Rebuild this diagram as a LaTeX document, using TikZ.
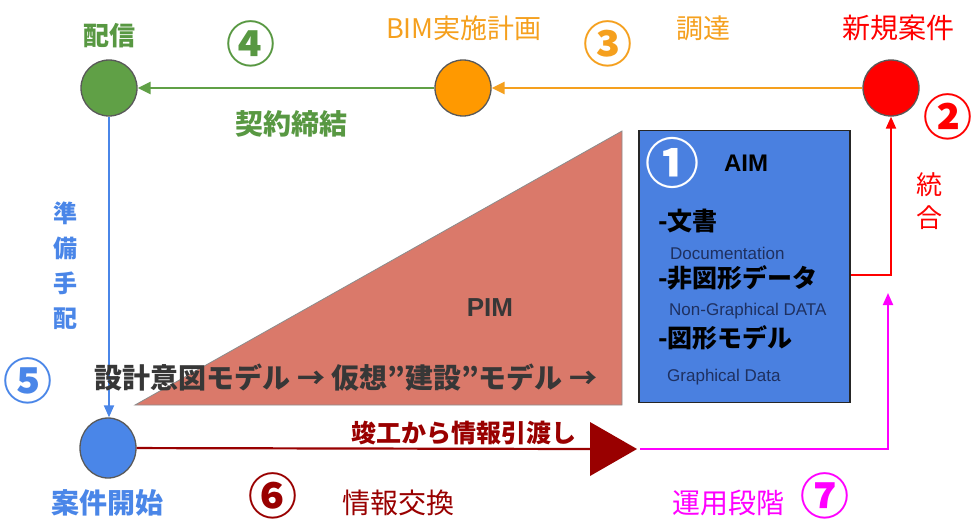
\documentclass[tikz,border=0pt]{standalone}
\usepackage{fontspec}
\setmainfont{Noto Sans CJK JP}
\newfontfamily\arial{Liberation Sans}
\usetikzlibrary{arrows.meta,shapes.geometric}
\newcommand\myfs[1]{\fontsize{#1}{#1}\selectfont}
\definecolor{cgreen}{RGB}{96,160,70}
\definecolor{tgreen}{RGB}{88,152,66}
\definecolor{corange}{RGB}{255,153,0}
\definecolor{torange}{RGB}{245,160,30}
\definecolor{cred}{RGB}{255,0,0}
\definecolor{cblue}{RGB}{74,134,232}
\definecolor{cdred}{RGB}{153,0,0}
\definecolor{cmag}{RGB}{255,0,255}
\definecolor{csalmon}{RGB}{218,121,106}
\definecolor{caim}{RGB}{74,128,224}
\definecolor{cnavy}{RGB}{30,48,96}
\definecolor{cdgray}{RGB}{55,55,55}
\tikzset{
  dot/.style={circle, minimum size=56pt, inner sep=0pt, draw=black!65, line width=1.3pt},
  lbl/.style={inner sep=0pt, anchor=center},
  tipa/.style={-{Triangle[length=13pt,width=12pt]}},
  cnum/.style={inner sep=0pt, font=\bfseries\myfs{49}},
}
\begin{document}
\begin{tikzpicture}[x=1pt,y=-1pt]
\useasboundingbox[fill=white] (0,0) rectangle (973,522);
% PIM triangle
\filldraw[fill=csalmon, draw=black!45, line width=0.8pt] (135,405) -- (622,405) -- (622,131) -- cycle;
% AIM box
\node[draw=black!85, fill=caim, line width=1.3pt, minimum width=211pt, minimum height=272pt, inner sep=0pt] (aim) at (744.5,266.5) {};
% circles
\node[dot, fill=cgreen] (deliver) at (109,88) {};
\node[dot, fill=corange] (plan) at (463,88) {};
\node[dot, fill=cred] (newp) at (891,88) {};
\node[ellipse, draw=black!65, line width=1.3pt, inner sep=0pt, fill=cblue, minimum width=56pt, minimum height=60pt] (start) at (108,448) {};
% connectors
\draw[tipa, draw=torange, line width=2.5pt] (newp) -- (plan);
\draw[tipa, draw=cgreen, line width=2.5pt] (plan) -- (deliver);
\draw[-{Triangle[length=12pt,width=10pt]}, draw=cblue, line width=1.8pt] (deliver) -- (deliver |- start.north);
\coordinate (r1) at (891,275);
\draw[-{Triangle[length=12pt,width=10pt]}, draw=cred, line width=2pt] (aim.east |- r1) -- (r1) -- (newp);
\coordinate (tipbase) at (590,449);
\coordinate (tip) at (637,449);
\draw[draw=cdred, line width=2.2pt] (start) -- (tipbase);
\fill[cdred] (590,422) -- (590,476) -- (tip) -- cycle;
\coordinate (m0) at (640,449);
\coordinate (m1) at (888,449);
\coordinate (m2) at (888,293);
\draw[-{Triangle[length=12pt,width=10pt]}, draw=cmag, line width=2pt] (m0) -- (m1) -- (m2);
% labels top
\node[lbl, text=tgreen, font=\bfseries\myfs{26}] (tdeliver) at (109,36) {配信};
\node[lbl, text=tgreen, cnum] (n4) at (251,44) {④};
\node[lbl, text=torange, font=\myfs{27}] (tplan) at (464,28) {BIM実施計画};
\node[lbl, text=torange, cnum] (n3) at (608,44) {③};
\node[lbl, text=torange, font=\myfs{27}] (tproc) at (703,28) {調達};
\node[lbl, text=cred, font=\myfs{28}] (tnew) at (898,28) {新規案件};
\node[lbl, text=cred, cnum] (n2) at (948,117) {②};
\node[lbl, text=tgreen, font=\bfseries\myfs{28}] (tcontract) at (291,124) {契約締結};
\node[lbl, text=cred, font=\myfs{26}, align=center, execute at begin node={\setlength{\baselineskip}{33pt}}] (tint) at (929,201) {統\\合};
\node[lbl, text=cblue, font=\bfseries\myfs{24}, align=center, execute at begin node={\setlength{\baselineskip}{35pt}}] (tprep) at (65,266) {準\\備\\手\\配};
\node[lbl, text=cblue, cnum] (n5) at (28,381) {⑤};
% PIM
\node[lbl, text=cdgray, font=\arial\bfseries\myfs{26}] (tpim) at (490,308) {PIM};
\node[lbl, text=cdgray, font=\bfseries\myfs{28}] (tmodel) at (346,378) {設計意図モデル → 仮想"建設”モデル →};
% AIM box contents
\node[lbl, text=white, font=\bfseries\myfs{54}] (n1) at (672,163) {①};
\node[lbl, text=black, font=\arial\bfseries\myfs{24}] (taim) at (746,163) {AIM};
\node[lbl, anchor=west, text=black, font=\bfseries\myfs{25}] (tdoc) at (658,221) {-文書};
\node[lbl, anchor=west, text=cnavy, font=\arial\myfs{17}] (tdoce) at (670,253) {Documentation};
\node[lbl, anchor=west, text=black, font=\bfseries\myfs{25}] (tngd) at (658,278) {-非図形データ};
\node[lbl, anchor=west, text=cnavy, font=\arial\myfs{17}] (tngde) at (669,311) {Non-Graphical DATA};
\node[lbl, anchor=west, text=black, font=\bfseries\myfs{25}] (tgm) at (658,338) {-図形モデル};
\node[lbl, anchor=west, text=cnavy, font=\arial\myfs{17}] (tgme) at (667,377) {Graphical Data};
% bottom
\node[lbl, text=cdred, font=\bfseries\myfs{25}] (thand) at (464,433) {竣工から情報引渡し};
\node[lbl, text=cblue, font=\bfseries\myfs{28}] (tstart) at (107,503) {案件開始};
\node[lbl, text=cdred, cnum] (n6) at (273,496) {⑥};
\node[lbl, text=cdred, font=\myfs{28}] (tex) at (398,503) {情報交換};
\node[lbl, text=cmag, font=\myfs{28}] (tops) at (728,503) {運用段階};
\node[lbl, text=cmag, cnum] (n7) at (825,496) {⑦};
\end{tikzpicture}
\end{document}
